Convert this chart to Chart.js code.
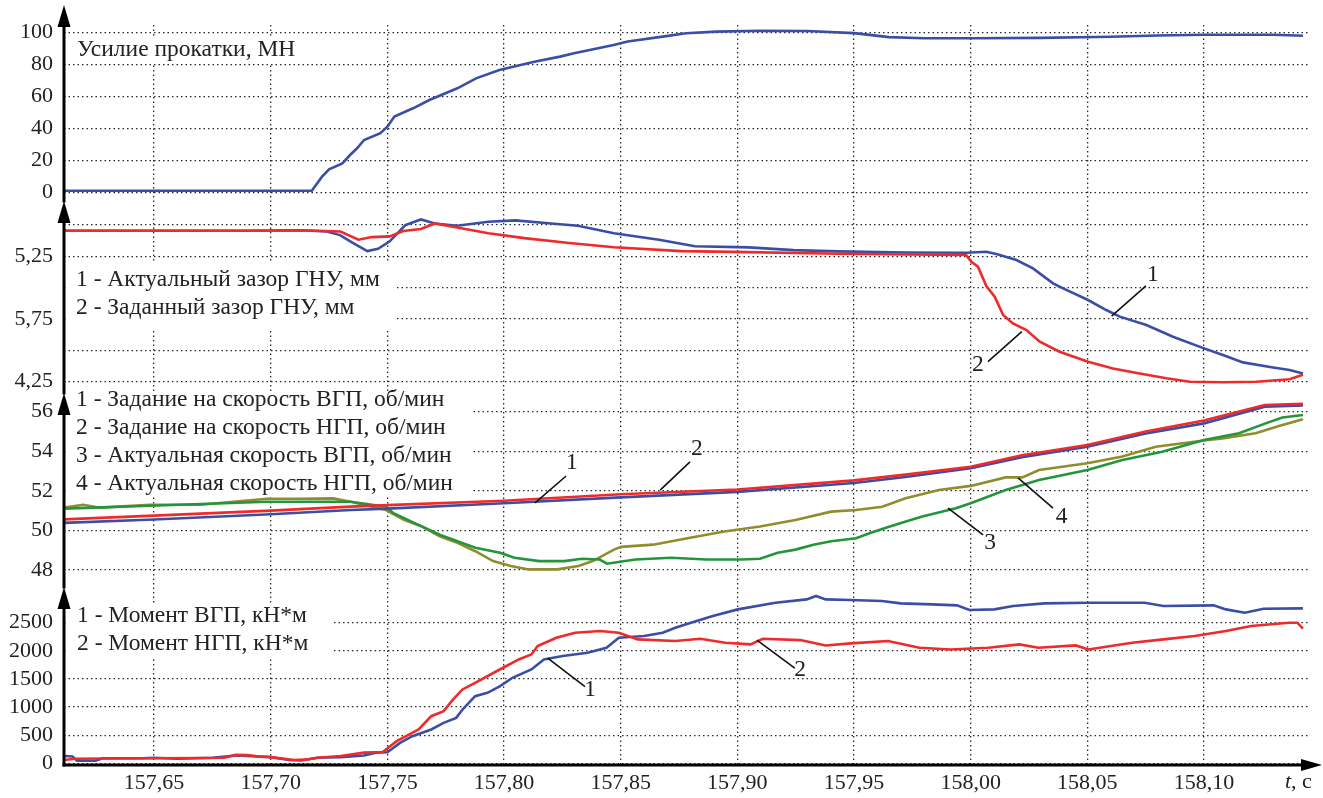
<!DOCTYPE html>
<html>
<head>
<meta charset="utf-8">
<script src="https://cdn.jsdelivr.net/npm/chart.js@4.4.1/dist/chart.umd.min.js"></script>
<style>
  html, body { margin: 0; padding: 0; background: #fff; }
  canvas { display: block; }
</style>
</head>
<body>
<canvas id="c" width="1323" height="798"></canvas>
<script>
// ---- time axis ----
const timeTicks = [157.65, 157.70, 157.75, 157.80, 157.85, 157.90, 157.95, 158.00, 158.05, 158.10];
const timeTickLabels = ['157,65', '157,70', '157,75', '157,80', '157,85', '157,90', '157,95', '158,00', '158,05', '158,10'];

// ---- panel tick values and labels ----
const forceTicks = [0, 20, 40, 60, 80, 100];
const forceTickLabels = ['0', '20', '40', '60', '80', '100'];
const gapTicks = [4.25, 4.5, 4.75, 5.0, 5.25, 5.5];
const gapTickLabels = ['4,25', '', '5,75', '', '5,25', ''];
const speedTicks = [48, 50, 52, 54, 56];
const speedTickLabels = ['48', '50', '52', '54', '56'];
const torqueTicks = [0, 500, 1000, 1500, 2000, 2500];
const torqueTickLabels = ['0', '500', '1000', '1500', '2000', '2500'];

// ---- panel captions ----
const forceCaption = ['Усилие прокатки, МН'];
const gapCaption = ['1 - Актуальный зазор ГНУ, мм', '2 - Заданный зазор ГНУ, мм'];
const speedCaption = ['1 - Задание на скорость ВГП, об/мин', '2 - Задание на скорость НГП, об/мин',
                      '3 - Актуальная скорость ВГП, об/мин', '4 - Актуальная скорость НГП, об/мин'];
const torqueCaption = ['1 - Момент ВГП, кН*м', '2 - Момент НГП, кН*м'];

// ---- series: [time, value] ----
const rollForce = [
  [157.6114, 1.0], [157.640, 1.0], [157.680, 1.0], [157.7176, 1.0], [157.7220, 9.8], [157.7250, 14.4],
  [157.7307, 18.1], [157.7340, 23.3], [157.7370, 27.5], [157.7400, 32.7], [157.7470, 36.9], [157.7500, 41.0],
  [157.7530, 47.3], [157.7610, 52.5], [157.7680, 57.7], [157.7800, 65.0], [157.7880, 71.2], [157.7980, 76.4],
  [157.8130, 81.6], [157.8240, 84.8], [157.8300, 86.9], [157.8470, 92.1], [157.8530, 94.2], [157.8680, 97.3],
  [157.8780, 99.4], [157.8910, 100.4], [157.9100, 101.0], [157.9300, 100.8], [157.9500, 99.5], [157.9650, 97.0],
  [157.9800, 96.3], [158.0000, 96.3], [158.0300, 96.5], [158.0600, 97.2], [158.0800, 98.0], [158.1000, 98.5],
  [158.1300, 98.5], [158.1424, 97.8]
];

const gapActual = [
  [157.6114, 5.455], [157.650, 5.455], [157.690, 5.455], [157.7126, 5.458], [157.7241, 5.449], [157.7297, 5.42],
  [157.7350, 5.36], [157.7414, 5.292], [157.7460, 5.31], [157.7510, 5.37], [157.7577, 5.50], [157.7644, 5.545],
  [157.7703, 5.513], [157.7799, 5.495], [157.7933, 5.527], [157.8048, 5.537], [157.8202, 5.513], [157.8317, 5.495],
  [157.8471, 5.435], [157.8664, 5.383], [157.8818, 5.331], [157.9048, 5.322], [157.9241, 5.300], [157.9433, 5.290],
  [157.9724, 5.281], [157.9981, 5.279], [158.0067, 5.287], [158.0110, 5.269], [158.0196, 5.221], [158.0267, 5.154],
  [158.0353, 5.035], [158.0396, 4.995], [158.0503, 4.902], [158.0581, 4.822], [158.0639, 4.769], [158.0753, 4.702],
  [158.0867, 4.609], [158.1000, 4.516], [158.1081, 4.463], [158.1167, 4.404], [158.1296, 4.364], [158.1367, 4.343],
  [158.1424, 4.316]
];

const gapSetpoint = [
  [157.6114, 5.455], [157.690, 5.455], [157.7126, 5.458], [157.7299, 5.449], [157.7376, 5.383], [157.7433, 5.404],
  [157.7510, 5.41], [157.7568, 5.453], [157.7644, 5.469], [157.7703, 5.513], [157.7799, 5.48], [157.7933, 5.435],
  [157.8087, 5.396], [157.8279, 5.357], [157.8471, 5.323], [157.8760, 5.292], [157.9048, 5.284], [157.9433, 5.271],
  [157.9724, 5.265], [157.9980, 5.261], [158.0003, 5.207], [158.0031, 5.168], [158.0067, 5.013], [158.0103, 4.928],
  [158.0139, 4.782], [158.0181, 4.715], [158.0239, 4.662], [158.0296, 4.569], [158.0381, 4.489], [158.0503, 4.41],
  [158.0610, 4.356], [158.0724, 4.316], [158.0839, 4.277], [158.0939, 4.25], [158.1081, 4.245], [158.1224, 4.25],
  [158.1367, 4.269], [158.1424, 4.305]
];

const speedSetUpper = [
  [157.6114, 50.38], [157.650, 50.55], [157.700, 50.82], [157.7343, 51.03], [157.750, 51.10], [157.800, 51.37],
  [157.850, 51.67], [157.900, 51.95], [157.950, 52.40], [157.972, 52.70], [158.000, 53.14], [158.022, 53.70],
  [158.050, 54.23], [158.075, 54.90], [158.100, 55.41], [158.126, 56.25], [158.1424, 56.32]
];

const speedSetLower = [
  [157.6114, 50.56], [157.650, 50.75], [157.700, 51.00], [157.7343, 51.20], [157.750, 51.28], [157.800, 51.50],
  [157.850, 51.83], [157.900, 52.07], [157.950, 52.53], [157.972, 52.82], [158.000, 53.22], [158.022, 53.80],
  [158.050, 54.32], [158.075, 55.00], [158.100, 55.55], [158.126, 56.34], [158.1424, 56.40]
];

const speedActUpper = [
  [157.6114, 51.10], [157.6483, 51.25], [157.6984, 51.45], [157.7267, 51.45], [157.7343, 51.45], [157.7494, 51.20],
  [157.7526, 50.87], [157.7617, 50.37], [157.7724, 49.78], [157.7800, 49.45], [157.7877, 49.12], [157.7983, 48.87],
  [157.8044, 48.62], [157.8151, 48.45], [157.8258, 48.45], [157.8334, 48.57], [157.8410, 48.53], [157.8441, 48.32],
  [157.8563, 48.53], [157.8715, 48.62], [157.8868, 48.53], [157.9020, 48.53], [157.9097, 48.57], [157.9173, 48.87],
  [157.9249, 49.03], [157.9326, 49.28], [157.9402, 49.45], [157.9509, 49.60], [157.9569, 49.87], [157.9650, 50.19],
  [157.9722, 50.45], [157.9793, 50.70], [157.9936, 51.12], [158.0000, 51.37], [158.0150, 52.04], [158.0293, 52.55],
  [158.0500, 53.05], [158.0650, 53.56], [158.0821, 53.98], [158.1000, 54.57], [158.1150, 54.91], [158.1264, 55.41],
  [158.1336, 55.71], [158.1424, 55.83]
];

const speedActLower = [
  [157.6114, 51.15], [157.6196, 51.30], [157.6269, 51.15], [157.6483, 51.30], [157.6697, 51.30], [157.6984, 51.60],
  [157.7126, 51.60], [157.7267, 51.62], [157.7343, 51.45], [157.7494, 51.03], [157.7571, 50.53], [157.7648, 50.20],
  [157.7724, 49.70], [157.7800, 49.37], [157.7877, 48.95], [157.7953, 48.45], [157.8029, 48.20], [157.8105, 48.03],
  [157.8228, 48.03], [157.8319, 48.20], [157.8380, 48.45], [157.8471, 49.03], [157.8502, 49.17], [157.8639, 49.28],
  [157.8792, 49.62], [157.8944, 49.95], [157.9097, 50.20], [157.9249, 50.53], [157.9402, 50.95], [157.9509, 51.03],
  [157.9621, 51.20], [157.9721, 51.62], [157.9864, 52.04], [158.0000, 52.25], [158.0150, 52.68], [158.0221, 52.68],
  [158.0293, 53.05], [158.0500, 53.39], [158.0650, 53.73], [158.0793, 54.23], [158.1000, 54.54], [158.1079, 54.65],
  [158.1221, 54.91], [158.1321, 55.28], [158.1424, 55.62]
];

const torqueUpper = [
  [157.6114, 130], [157.615, 120], [157.617, 45], [157.625, 45], [157.628, 90], [157.645, 90], [157.650, 100],
  [157.660, 80], [157.675, 100], [157.685, 140], [157.690, 130], [157.700, 110], [157.708, 60], [157.713, 50],
  [157.720, 100], [157.730, 110], [157.740, 140], [157.745, 190], [157.750, 197], [157.7554, 363], [157.7607, 482],
  [157.7688, 601], [157.7741, 719], [157.7795, 808], [157.7822, 957], [157.7876, 1194], [157.7929, 1254],
  [157.7983, 1372], [157.8036, 1521], [157.8117, 1669], [157.8171, 1847], [157.8251, 1907], [157.8358, 1966],
  [157.8439, 2055], [157.8492, 2233], [157.8600, 2263], [157.8680, 2322], [157.8734, 2411], [157.8801, 2500],
  [157.8895, 2619], [157.9002, 2737], [157.9163, 2856], [157.9297, 2915], [157.9337, 2975], [157.9378, 2915],
  [157.9485, 2904], [157.9619, 2886], [157.9700, 2844], [157.9834, 2826], [157.9941, 2809], [157.9995, 2726],
  [158.0102, 2737], [158.0182, 2797], [158.0316, 2844], [158.0504, 2856], [158.0746, 2856], [158.0826, 2797],
  [158.1041, 2809], [158.1094, 2737], [158.1175, 2678], [158.1255, 2749], [158.1424, 2755]
];

const torqueLower = [
  [157.6114, 60], [157.616, 80], [157.630, 85], [157.650, 90], [157.670, 95], [157.680, 100], [157.685, 150],
  [157.690, 145], [157.695, 120], [157.700, 110], [157.710, 60], [157.715, 65], [157.720, 100], [157.730, 130],
  [157.740, 190], [157.748, 200], [157.754, 393], [157.758, 482], [157.7634, 601], [157.7688, 838], [157.7741, 927],
  [157.7782, 1135], [157.7822, 1313], [157.7876, 1432], [157.7956, 1610], [157.7996, 1699], [157.8063, 1847],
  [157.8117, 1936], [157.8144, 2085], [157.8224, 2233], [157.8305, 2322], [157.8412, 2352], [157.8492, 2322],
  [157.8573, 2203], [157.8734, 2174], [157.8841, 2215], [157.8948, 2144], [157.9056, 2114], [157.9109, 2215],
  [157.9270, 2191], [157.9378, 2096], [157.9485, 2132], [157.9646, 2174], [157.9780, 2055], [157.9914, 2025],
  [158.0075, 2055], [158.0209, 2114], [158.0290, 2055], [158.0450, 2096], [158.0504, 2025], [158.0692, 2144],
  [158.0826, 2203], [158.0960, 2263], [158.1094, 2352], [158.1202, 2441], [158.1363, 2500], [158.1400, 2500],
  [158.1424, 2393]
];

// ---- numbered callouts: label, axis, text position, leader from curve to label ----
const callouts = [
  { text: '1', axis: 'yGap',    tx: 158.0781, ty: 5.101, x1: 158.0604, y1: 4.774, x2: 158.0751, y2: 5.014 },
  { text: '2', axis: 'yGap',    tx: 158.0031, ty: 4.383, x1: 158.0219, y1: 4.649, x2: 158.0074, y2: 4.410 },
  { text: '1', axis: 'ySpeed',  tx: 157.8291, ty: 53.41, x1: 157.8133, y1: 51.39, x2: 157.8266, y2: 52.75 },
  { text: '2', axis: 'ySpeed',  tx: 157.8827, ty: 54.11, x1: 157.8669, y1: 52.04, x2: 157.8797, y2: 53.46 },
  { text: '3', axis: 'ySpeed',  tx: 158.0083, ty: 49.36, x1: 157.9903, y1: 51.13, x2: 158.0053, y2: 49.77 },
  { text: '4', axis: 'ySpeed',  tx: 158.0390, ty: 50.69, x1: 158.0203, y1: 52.65, x2: 158.0353, y2: 51.13 },
  { text: '1', axis: 'yTorque', tx: 157.8369, ty: 1303,  x1: 157.8187, y1: 1872,  x2: 157.8347, y2: 1362 },
  { text: '2', axis: 'yTorque', tx: 157.9269, ty: 1659,  x1: 157.9084, y1: 2192,  x2: 157.9246, y2: 1694 }
];

// ---- styling ----
const FONT = '"Liberation Serif", "Times New Roman", serif';
const TEXT = '#222';
const BLUE = '#3b4ea6';
const RED = '#f02a2a';
const GREEN = '#23963c';
const OLIVE = '#8f8d2c';
const TICK_SIZE = 22;
const CAPTION_SIZE = 23.5;

const toXY = arr => arr.map(([x, y]) => ({ x, y }));

function series(data, color, axis, order) {
  return {
    data: toXY(data), yAxisID: axis, borderColor: color, borderWidth: 2.6,
    pointRadius: 0, tension: 0, fill: false, order
  };
}

const gridStyle = { color: '#2a2a2a', lineWidth: 1.3, drawTicks: false };

function panelAxis(ticks, labels, min, max, weight) {
  return {
    type: 'linear', position: 'left', stack: 'panels', stackWeight: weight,
    min, max,
    afterFit: s => { s.width = 64; },
    afterBuildTicks: s => { s.ticks = ticks.map(v => ({ value: v })); },
    ticks: {
      padding: 11, color: TEXT, autoSkip: false,
      font: { family: FONT, size: TICK_SIZE },
      callback: (v, i) => labels[i]
    },
    grid: gridStyle,
    border: { display: false, dash: [1.5, 3] }
  };
}

// caption boxes (white background behind the panel captions)
const captionBoxes = [
  { lines: forceCaption,  x: 77, y: 50,  step: 28,   box: [66, 37, 240, 26] },
  { lines: gapCaption,    x: 76, y: 280, step: 28,   box: [66, 263, 330, 67] },
  { lines: speedCaption,  x: 76, y: 400, step: 27.8, box: [66, 394, 405, 101] },
  { lines: torqueCaption, x: 77, y: 616, step: 27.5, box: [66, 604, 268, 53] }
];

const decorPlugin = {
  id: 'decor',
  beforeDatasetsDraw(chart) {
    const ctx = chart.ctx;
    ctx.save();
    ctx.font = CAPTION_SIZE + 'px ' + FONT;
    ctx.textBaseline = 'middle';
    ctx.textAlign = 'left';
    for (const c of captionBoxes) {
      ctx.fillStyle = '#fff';
      ctx.fillRect(c.box[0], c.box[1], c.box[2], c.box[3]);
      ctx.fillStyle = TEXT;
      c.lines.forEach((t, i) => ctx.fillText(t, c.x, c.y + i * c.step));
    }
    ctx.restore();
  },
  afterDatasetsDraw(chart) {
    const ctx = chart.ctx;
    const xs = chart.scales.x;
    ctx.save();
    ctx.font = CAPTION_SIZE + 'px ' + FONT;
    ctx.textBaseline = 'middle';
    ctx.textAlign = 'center';
    for (const c of callouts) {
      const ys = chart.scales[c.axis];
      ctx.strokeStyle = '#111';
      ctx.lineWidth = 1.6;
      ctx.beginPath();
      ctx.moveTo(xs.getPixelForValue(c.x1), ys.getPixelForValue(c.y1));
      ctx.lineTo(xs.getPixelForValue(c.x2), ys.getPixelForValue(c.y2));
      ctx.stroke();
      ctx.fillStyle = TEXT;
      ctx.fillText(c.text, xs.getPixelForValue(c.tx), ys.getPixelForValue(c.ty));
    }
    ctx.restore();
  },
  afterDraw(chart) {
    const ctx = chart.ctx;
    const area = chart.chartArea;
    ctx.save();
    ctx.fillStyle = '#000';
    ctx.strokeStyle = '#000';
    ctx.lineWidth = 3;
    const xLeft = area.left;
    // vertical axes with arrow heads, one per panel
    for (const id of ['yForce', 'yGap', 'ySpeed', 'yTorque']) {
      const s = chart.scales[id];
      const tip = s.top <= area.top + 1 ? s.top - 20 : s.top;
      ctx.beginPath();
      ctx.moveTo(xLeft, tip + 15);
      ctx.lineTo(xLeft, s.bottom + 1.5);
      ctx.stroke();
      ctx.beginPath();
      ctx.moveTo(xLeft, tip);
      ctx.lineTo(xLeft - 6.5, tip + 22);
      ctx.lineTo(xLeft + 6.5, tip + 22);
      ctx.closePath();
      ctx.fill();
    }
    // time axis with arrow head
    const yb = area.bottom;
    ctx.beginPath();
    ctx.moveTo(xLeft - 1.5, yb);
    ctx.lineTo(area.right - 4, yb);
    ctx.stroke();
    ctx.beginPath();
    ctx.moveTo(area.right + 13, yb);
    ctx.lineTo(area.right - 8, yb - 6);
    ctx.lineTo(area.right - 8, yb + 6);
    ctx.closePath();
    ctx.fill();
    // unit label of the time axis
    ctx.fillStyle = TEXT;
    ctx.textBaseline = 'middle';
    ctx.textAlign = 'left';
    ctx.font = 'italic ' + TICK_SIZE + 'px ' + FONT;
    const lx = 1285, ly = 782;
    ctx.fillText('t', lx, ly);
    const w = ctx.measureText('t').width;
    ctx.font = TICK_SIZE + 'px ' + FONT;
    ctx.fillText(', c', lx + w, ly);
    ctx.restore();
  }
};

new Chart(document.getElementById('c'), {
  type: 'line',
  data: {
    datasets: [
      series(rollForce, BLUE, 'yForce', 5),
      series(gapSetpoint, RED, 'yGap', 1),
      series(gapActual, BLUE, 'yGap', 2),
      series(speedSetLower, RED, 'ySpeed', 1),
      series(speedSetUpper, BLUE, 'ySpeed', 2),
      series(speedActUpper, GREEN, 'ySpeed', 3),
      series(speedActLower, OLIVE, 'ySpeed', 4),
      series(torqueLower, RED, 'yTorque', 1),
      series(torqueUpper, BLUE, 'yTorque', 2)
    ]
  },
  options: {
    responsive: false,
    devicePixelRatio: 1,
    animation: false,
    parsing: false,
    normalized: true,
    layout: { padding: { top: 25, right: 14, left: 0, bottom: 0 } },
    plugins: { legend: { display: false }, tooltip: { enabled: false }, title: { display: false } },
    scales: {
      x: {
        type: 'linear', position: 'bottom', min: 157.6114, max: 158.145,
        afterFit: s => { s.height = 33; },
        afterBuildTicks: s => { s.ticks = timeTicks.map(v => ({ value: v })); },
        ticks: {
          padding: 5, color: TEXT, autoSkip: false, maxRotation: 0,
          font: { family: FONT, size: TICK_SIZE },
          callback: (v, i) => timeTickLabels[i]
        },
        grid: gridStyle,
        border: { display: false, dash: [1.5, 3] }
      },
      // stacked panels, listed bottom to top
      yTorque: panelAxis(torqueTicks, torqueTickLabels, -30, 3135, 178),
      ySpeed: panelAxis(speedTicks, speedTickLabels, 47.141, 56.944, 194),
      yGap: panelAxis(gapTicks, gapTickLabels, 4.1598, 5.692, 192),
      yForce: panelAxis(forceTicks, forceTickLabels, -5.44, 104.56, 176)
    }
  },
  plugins: [decorPlugin]
});
</script>
</body>
</html>
